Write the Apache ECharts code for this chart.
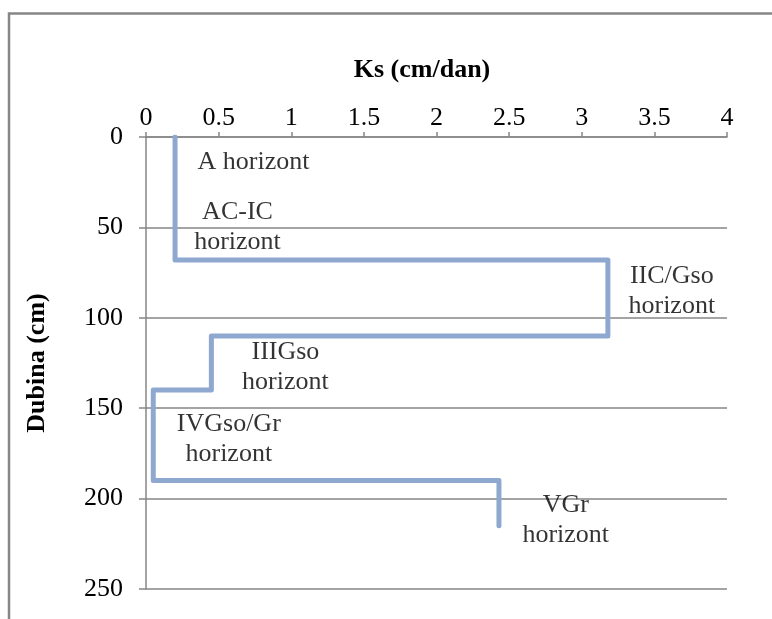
<!DOCTYPE html>
<html>
<head>
<meta charset="utf-8">
<script src="https://cdn.jsdelivr.net/npm/echarts@6/dist/echarts.min.js"></script>
<style>
  html, body { margin: 0; padding: 0; background: #fff; }
  #chart { width: 772px; height: 619px; }
</style>
</head>
<body>
<div id="chart"></div>
<script>
// Horizon boundaries (depth, cm) and saturated hydraulic conductivity Ks (cm/dan)
var depthBreaks = [0, 68, 110, 140, 190, 215];
var ksValues = [0.2, 3.18, 0.45, 0.05, 2.43];

// Horizon names and where their labels sit (Ks, depth)
var horizonNames = ['A horizont', 'AC-IC\nhorizont', 'IIC/Gso\nhorizont', 'IIIGso\nhorizont', 'IVGso/Gr\nhorizont', 'VGr\nhorizont'];
var labelKs = [0.74, 0.63, 3.62, 0.96, 0.57, 2.89];
var labelDepth = [14, 50, 85.5, 127.5, 167, 212];

// Axis ticks
var xTicks = [0, 0.5, 1, 1.5, 2, 2.5, 3, 3.5, 4];
var yTicks = [0, 50, 100, 150, 200, 250];

var stepData = [];
for (var i = 0; i < ksValues.length; i++) {
  stepData.push([ksValues[i], depthBreaks[i]]);
  stepData.push([ksValues[i], depthBreaks[i + 1]]);
}
var labelData = horizonNames.map(function (n, i) { return [labelKs[i], labelDepth[i], n]; });

var FONT = 'Liberation Serif, Times New Roman, serif';
var GREY = '#868686';

var chart = echarts.init(document.getElementById('chart'), null, { renderer: 'canvas' });
chart.setOption({
  animation: false,
  backgroundColor: '#fff',
  grid: { left: 146, top: 137, width: 581, height: 452, containLabel: false },
  xAxis: {
    type: 'value',
    position: 'top',
    min: xTicks[0],
    max: xTicks[xTicks.length - 1],
    interval: xTicks[1] - xTicks[0],
    axisLine: { show: true, lineStyle: { color: GREY, width: 1.5 } },
    axisTick: { show: true, inside: false, length: 5, lineStyle: { color: GREY, width: 1.5 } },
    axisLabel: { fontFamily: FONT, fontSize: 26, color: '#000', margin: 6,
      formatter: function (v) { return String(v); } },
    splitLine: { show: false }
  },
  yAxis: {
    type: 'value',
    inverse: true,
    min: yTicks[0],
    max: yTicks[yTicks.length - 1],
    interval: yTicks[1] - yTicks[0],
    axisLine: { show: true, lineStyle: { color: GREY, width: 1.5 } },
    axisTick: { show: true, inside: false, length: 7, lineStyle: { color: GREY, width: 1.5 } },
    axisLabel: { fontFamily: FONT, fontSize: 26, color: '#000', margin: 23 },
    splitLine: { show: true, lineStyle: { color: GREY, width: 1.5 } }
  },
  series: [
    {
      type: 'line',
      data: stepData,
      showSymbol: false,
      symbol: 'none',
      lineStyle: { color: '#8FA8D0', width: 5, cap: 'round', join: 'round' },
      silent: true,
      z: 3
    },
    {
      type: 'scatter',
      data: labelData,
      symbolSize: 0,
      silent: true,
      label: {
        show: true,
        position: 'inside',
        formatter: function (p) { return p.data[2]; },
        fontFamily: FONT,
        fontSize: 26,
        lineHeight: 30,
        color: '#000',
        align: 'center',
        verticalAlign: 'middle'
      },
      z: 4
    }
  ],
  graphic: [
    {
      type: 'rect',
      shape: { x: 9, y: 13.5, width: 800, height: 700 },
      style: { fill: 'none', stroke: GREY, lineWidth: 2.5 },
      silent: true
    },
    {
      type: 'text',
      x: 422, y: 70,
      style: { text: 'Ks (cm/dan)', fontFamily: FONT, fontSize: 26, fontWeight: 'bold',
        fill: '#000', align: 'center', verticalAlign: 'middle' }
    },
    {
      type: 'text',
      x: 37, y: 363,
      rotation: Math.PI / 2,
      style: { text: 'Dubina (cm)', fontFamily: FONT, fontSize: 26, fontWeight: 'bold',
        fill: '#000', align: 'center', verticalAlign: 'middle' }
    }
  ]
});
</script>
</body>
</html>
